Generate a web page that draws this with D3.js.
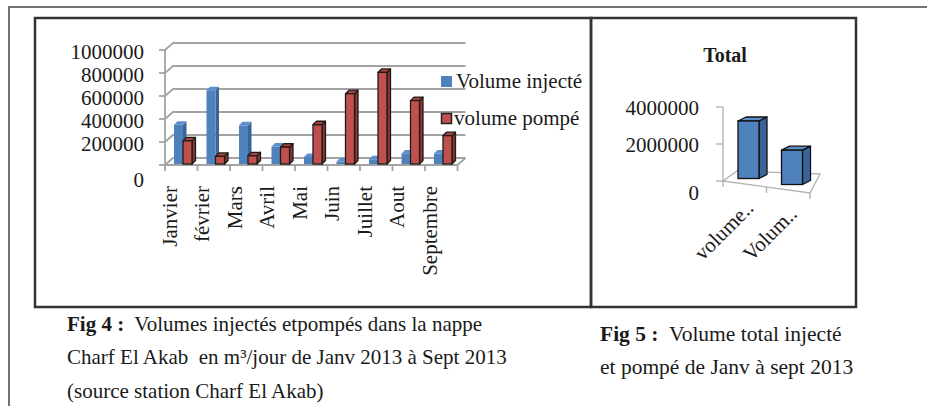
<!DOCTYPE html>
<html>
<head>
<meta charset="utf-8">
<script src="https://cdn.jsdelivr.net/npm/d3@7/dist/d3.min.js"></script>
<style>
  html, body { margin: 0; padding: 0; background: #fff; }
  svg { display: block; font-family: "Liberation Serif", "Times New Roman", serif; }
  text { fill: #1a1a1a; }
</style>
</head>
<body>
<svg id="fig" width="927" height="406"></svg>
<script>
// Monthly volumes (m3/day), January to September 2013
const months = ["Janvier", "février", "Mars", "Avril", "Mai", "Juin", "Juillet", "Aout", "Septembre"];
const injected = [350000, 650000, 345000, 160000, 70000, 30000, 50000, 100000, 100000];
const pumped   = [210000, 75000, 80000, 155000, 350000, 620000, 805000, 560000, 255000];
const seriesNames = ["Volume injecté", "volume pompé"];
const monthTicks = [0, 200000, 400000, 600000, 800000, 1000000];

// Totals chart
const totalTitle = "Total";
const totalCategories = ["volume..", "Volum.."];
const totalTicks = [0, 2000000, 4000000];
const totals = [d3.sum(pumped), d3.sum(injected)];

const svg = d3.select("#fig");
const GRID = "#a3a3a3";

// ---------- page frame ----------
svg.append("path").attr("d", "M9,406V7H927")
  .attr("fill", "none").attr("stroke", "#444").attr("stroke-width", 1.5);
svg.append("rect").attr("x", 35).attr("y", 18).attr("width", 556).attr("height", 289)
  .attr("fill", "none").attr("stroke", "#333").attr("stroke-width", 2.5);
svg.append("rect").attr("x", 591).attr("y", 18).attr("width", 265).attr("height", 289)
  .attr("fill", "none").attr("stroke", "#333").attr("stroke-width", 2.5);

// Draws a 3-D column: front face, right side, top cap
function column(g, x0, w, yTop, yBase, dx, dy, col, stroke) {
  const sw = stroke ? 1.3 : 0;
  const st = stroke || "none";
  g.append("polygon")
    .attr("points", [[x0 + w, yTop], [x0 + w + dx, yTop + dy], [x0 + w + dx, yBase + dy], [x0 + w, yBase]].join(" "))
    .attr("fill", col.side).attr("stroke", st).attr("stroke-width", sw).attr("stroke-linejoin", "round");
  g.append("polygon")
    .attr("points", [[x0, yTop], [x0 + dx, yTop + dy], [x0 + w + dx, yTop + dy], [x0 + w, yTop]].join(" "))
    .attr("fill", col.top).attr("stroke", st).attr("stroke-width", sw).attr("stroke-linejoin", "round");
  g.append("rect")
    .attr("x", x0).attr("y", yTop).attr("width", w).attr("height", Math.max(0, yBase - yTop))
    .attr("fill", col.front).attr("stroke", st).attr("stroke-width", sw);
}

const BLUE = { front: "#4f81bd", side: "#3a6599", top: "#5d8fcb" };
const RED  = { front: "#c0504d", side: "#8e3431", top: "#a9403d" };

// ---------- monthly chart ----------
const x = d3.scaleBand().domain(months).range([165, 457.5]);
const y = d3.scaleLinear().domain([0, 1000000]).range([165, 50]);
const wall = { dx: 8, dy: -7 };
const g1 = svg.append("g");

// side wall + back wall gridlines
monthTicks.forEach(t => {
  g1.append("path")
    .attr("d", `M165,${y(t)}L${165 + wall.dx},${y(t) + wall.dy}H${457.5 + wall.dx}`)
    .attr("fill", "none").attr("stroke", GRID).attr("stroke-width", 1.8);
});
// floor front + right edges
g1.append("path")
  .attr("d", `M165,${y(0)}H457.5L${457.5 + wall.dx},${y(0) + wall.dy}`)
  .attr("fill", "none").attr("stroke", GRID).attr("stroke-width", 1.8);
// value axis
g1.append("line").attr("x1", 165).attr("x2", 165).attr("y1", y(0)).attr("y2", y(1000000))
  .attr("stroke", GRID).attr("stroke-width", 1.8);
monthTicks.forEach(t => {
  g1.append("line").attr("x1", 159).attr("x2", 165).attr("y1", y(t)).attr("y2", y(t))
    .attr("stroke", GRID).attr("stroke-width", 1.8);
});
// category ticks
months.concat([null]).forEach((m, i) => {
  const xx = m === null ? x.range()[1] : x(m);
  g1.append("line").attr("x1", xx).attr("x2", xx).attr("y1", y(0)).attr("y2", y(0) + 6)
    .attr("stroke", GRID).attr("stroke-width", 1.8);
});

// columns
const colW = 9, colDepth = { dx: 3.5, dy: -3.5 };
months.forEach((m, i) => {
  column(g1, x(m) + 9, colW, y(injected[i]), y(0) - 1, colDepth.dx, colDepth.dy, BLUE, null);
  column(g1, x(m) + 18, colW, y(pumped[i]), y(0) - 1, colDepth.dx, colDepth.dy, RED, "#1c1c1c");
});

// value labels
g1.selectAll("text.ytick").data(monthTicks).enter().append("text")
  .attr("class", "ytick")
  .attr("x", 144).attr("y", d => y(d) + (d === 0 ? 15 : 2))
  .attr("dy", "0.35em").attr("text-anchor", "end")
  .attr("font-size", 21).text(d => d);

// month labels
g1.selectAll("text.month").data(months).enter().append("text")
  .attr("class", "month")
  .attr("transform", d => `translate(${x(d) + 4.5},186) rotate(-90)`)
  .attr("dy", "0.35em").attr("text-anchor", "end")
  .attr("font-size", 21).text(d => d);

// legend
const leg = svg.append("g");
leg.append("rect").attr("x", 441).attr("y", 76).attr("width", 11).attr("height", 11).attr("fill", BLUE.front);
leg.append("text").attr("x", 456).attr("y", 88).attr("font-size", 21).text(seriesNames[0]);
leg.append("rect").attr("x", 441.5).attr("y", 113.5).attr("width", 10).attr("height", 10)
  .attr("fill", RED.front).attr("stroke", "#222").attr("stroke-width", 1.5);
leg.append("text").attr("x", 454).attr("y", 125).attr("font-size", 21).text(seriesNames[1]);

// ---------- totals chart ----------
const g2 = svg.append("g");
const xb = d3.scaleBand().domain(totalCategories).range([723, 810]);
const yb = d3.scaleLinear().domain([0, 4000000]).range([181, 107]);
const slope = 12 / 87;
const floorY = xx => yb(0) + slope * (xx - 723);

g2.append("text").attr("x", 725).attr("y", 62).attr("text-anchor", "middle")
  .attr("font-size", 20).attr("font-weight", "bold").text(totalTitle);

// floor
g2.append("path")
  .attr("d", `M723,${floorY(723)}L810,${floorY(810)}L820,${yb(0) - 7}L737,${yb(0) - 10}Z`)
  .attr("fill", "none").attr("stroke", "#b3b3b3").attr("stroke-width", 1.4);
// axis
g2.append("line").attr("x1", 723).attr("x2", 723).attr("y1", yb(0)).attr("y2", yb(4000000))
  .attr("stroke", "#b3b3b3").attr("stroke-width", 1.4);
totalTicks.forEach(t => {
  g2.append("line").attr("x1", 716).attr("x2", 723).attr("y1", yb(t)).attr("y2", yb(t))
    .attr("stroke", "#b3b3b3").attr("stroke-width", 1.4);
});
[723, 723 + xb.bandwidth(), 810].forEach(xx => {
  g2.append("line").attr("x1", xx).attr("x2", xx).attr("y1", floorY(xx)).attr("y2", floorY(xx) + 6)
    .attr("stroke", "#b3b3b3").attr("stroke-width", 1.4);
});

// columns
totalCategories.forEach((c, i) => {
  const x0 = xb(c) + 15, w = 21;
  const base = floorY(x0 + w / 2) - 6;
  const h = yb(0) - yb(totals[i]);
  column(g2, x0, w, base - h, base, 8, -4, BLUE, "#111");
});

// labels
g2.selectAll("text.ytick").data(totalTicks).enter().append("text")
  .attr("class", "ytick")
  .attr("x", 699).attr("y", d => yb(d) + (d === 0 ? 12 : 1))
  .attr("dy", "0.35em").attr("text-anchor", "end")
  .attr("font-size", 21).text(d => d);

g2.selectAll("text.cat").data(totalCategories).enter().append("text")
  .attr("class", "cat")
  .attr("transform", d => {
    const cx = xb(d) + xb.bandwidth() / 2 + 10;
    return `translate(${cx},${floorY(cx) + 24}) rotate(-45)`;
  })
  .attr("text-anchor", "end").attr("font-size", 21).text(d => d);

// ---------- captions ----------
function caption(xx, yy, size, bold, rest) {
  const t = svg.append("text").attr("x", xx).attr("y", yy).attr("font-size", size)
    .style("white-space", "pre");
  if (bold) t.append("tspan").attr("font-weight", "bold").text(bold);
  t.append("tspan").text(rest);
}
caption(67, 331, 21, "Fig 4 :", "  Volumes injectés etpompés dans la nappe");
caption(67, 364, 21, null, "Charf El Akab  en m³/jour de Janv 2013 à Sept 2013");
caption(67, 398, 21, null, "(source station Charf El Akab)");
caption(600, 341, 21.5, "Fig 5 :", "  Volume total injecté");
caption(600, 374, 21.5, null, "et pompé de Janv à sept 2013");
</script>
</body>
</html>
